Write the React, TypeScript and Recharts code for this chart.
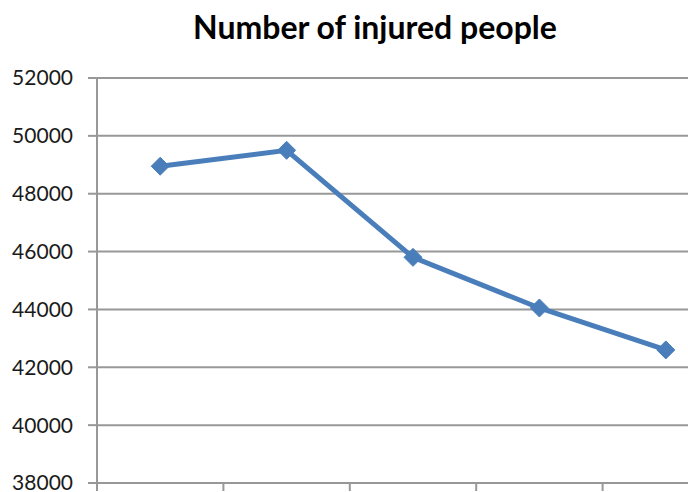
import { LineChart, Line, XAxis, YAxis, CartesianGrid } from "recharts"

// categories have no visible labels in the original
const categories = ["1", "2", "3", "4", "5"]
const injured = [48950, 49500, 45800, 44050, 42600]
const yTicks = [38000, 40000, 42000, 44000, 46000, 48000, 50000, 52000]

const data = categories.map((c, i) => ({ name: c, injured: injured[i] }))

const CHART_W = 740
const CHART_H = 492
const AXIS_W = 97
const RIGHT = 11
const BAND = (CHART_W - AXIS_W - RIGHT) / categories.length

const gridColor = "#989898"
const lineColor = "#4a7ebb"

// tick marks sit on category boundaries, not centres
function BoundaryTick(props: any) {
  const { x, y } = props
  const bx = x - BAND / 2
  return <line x1={bx} y1={y - 8} x2={bx} y2={y} stroke={gridColor} strokeWidth={2} />
}

function Diamond(props: any) {
  const { cx, cy } = props
  if (cx == null || cy == null) return null
  const r = 9
  return (
    <polygon
      points={`${cx},${cy - r} ${cx + r},${cy} ${cx},${cy + r} ${cx - r},${cy}`}
      fill={lineColor}
      stroke={lineColor}
      strokeWidth={1}
    />
  )
}

export default function App() {
  return (
    <div
      style={{
        position: "absolute",
        left: 0,
        top: 0,
        width: 688,
        height: 492,
        overflow: "hidden",
        background: "#fff",
        fontFamily: "Lato, sans-serif",
      }}
    >
      <div
        style={{
          position: "absolute",
          top: 7,
          left: 0,
          width: 750,
          textAlign: "center",
          fontSize: 32,
          fontWeight: 700,
          color: "#000",
        }}
      >
        Number of injured people
      </div>
      <LineChart
        width={CHART_W}
        height={CHART_H}
        data={data}
        margin={{ top: 78, right: RIGHT, left: 0, bottom: 0 }}
      >
        <CartesianGrid vertical={false} stroke={gridColor} strokeWidth={2} />
        <XAxis
          dataKey="name"
          scale="band"
          height={9}
          axisLine={false}
          tickLine={false}
          tick={<BoundaryTick />}
          interval={0}
        />
        <YAxis
          width={AXIS_W}
          domain={[38000, 52000]}
          ticks={yTicks}
          interval={0}
          axisLine={{ stroke: gridColor, strokeWidth: 2 }}
          tickLine={{ stroke: gridColor, strokeWidth: 2 }}
          tickSize={9}
          tickMargin={15}
          tick={{ fill: "#1a1a1a", fontSize: 21, fontFamily: "Lato, sans-serif" }}
        />
        <Line
          type="linear"
          dataKey="injured"
          stroke={lineColor}
          strokeWidth={5}
          dot={<Diamond />}
          activeDot={false}
          isAnimationActive={false}
        />
      </LineChart>
    </div>
  )
}
